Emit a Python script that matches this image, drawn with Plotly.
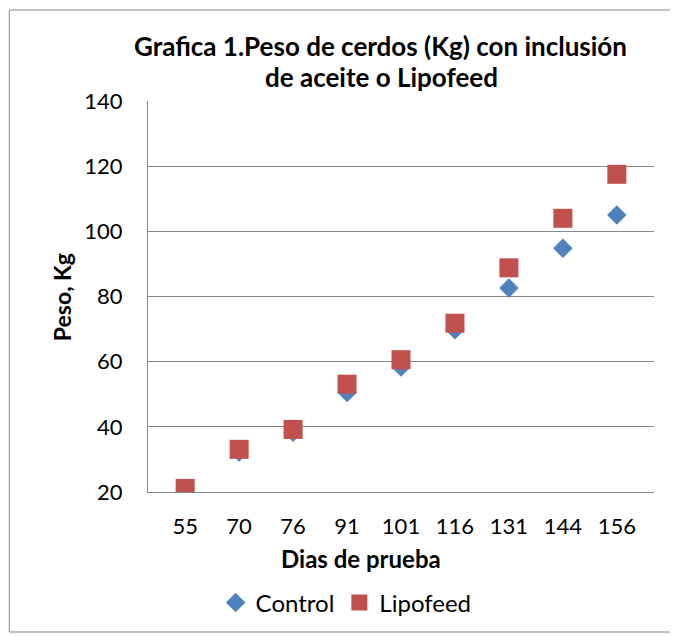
import plotly.graph_objects as go

dias = ["55", "70", "76", "91", "101", "116", "131", "144", "156"]
control = [20.9, 32.3, 38.3, 50.5, 58.4, 69.8, 82.6, 94.8, 105.0]
lipofeed = [21.1, 33.1, 39.2, 53.1, 60.6, 71.8, 88.8, 104.0, 117.5]
y_ticks = [20, 40, 60, 80, 100, 120, 140]

FONT = "Lato"
W, H = 670, 629
L, T = 139.5, 93
R = W - 646.5
B = H - 484
pw, ph = W - L - R, H - T - B

def px(x):
    return (x - L) / pw

def py(y):
    return (H - B - y) / ph

fig = go.Figure()
fig.add_trace(go.Scatter(x=dias, y=control, mode="markers", name="Control",
                         marker=dict(symbol="diamond", size=15, color="#4F81BD")))
fig.add_trace(go.Scatter(x=dias, y=lipofeed, mode="markers", name="Lipofeed",
                         marker=dict(symbol="square", size=19, color="#C0504D")))

fig.update_layout(
    width=W, height=H,
    margin=dict(l=L, r=R, t=T, b=B),
    paper_bgcolor="white", plot_bgcolor="white",
    font=dict(family=FONT, color="black"),
    showlegend=True,
    legend=dict(orientation="h", x=px(338), xanchor="center", y=py(595), yanchor="middle",
                font=dict(size=24, family=FONT), itemsizing="trace", tracegroupgap=0),
    xaxis=dict(type="category", showgrid=False, showline=True, linecolor="#868686",
               ticks="", tickfont=dict(size=22, family=FONT), ticklabelstandoff=15),
    yaxis=dict(range=[20, 140], tickvals=y_ticks, showgrid=True, gridcolor="#868686", gridwidth=1,
               showline=True, linecolor="#868686", zeroline=False, ticks="",
               tickfont=dict(size=22, family=FONT), ticklabelstandoff=20),
)

fig.add_annotation(text="<b>Grafica 1.Peso de cerdos (Kg) con inclusión</b>",
                   xref="paper", yref="paper", x=px(372), y=py(38), xanchor="center", yanchor="middle",
                   showarrow=False, font=dict(size=26, family=FONT))
fig.add_annotation(text="<b>de aceite o Lipofeed</b>",
                   xref="paper", yref="paper", x=px(373), y=py(69), xanchor="center", yanchor="middle",
                   showarrow=False, font=dict(size=26, family=FONT))
fig.add_annotation(text="<b>Dias de prueba</b>",
                   xref="paper", yref="paper", x=px(353), y=py(550), xanchor="center", yanchor="middle",
                   showarrow=False, font=dict(size=24, family=FONT))
fig.add_annotation(text="<b>Peso, Kg</b>", textangle=-90,
                   xref="paper", yref="paper", x=px(53), y=py(289.5), xanchor="center", yanchor="middle",
                   showarrow=False, font=dict(size=23, family=FONT))

fig.add_shape(type="rect", xref="paper", yref="paper",
              x0=px(0.5), x1=px(664), y0=py(624), y1=py(2),
              line=dict(color="#868686", width=1), fillcolor="rgba(0,0,0,0)", layer="below")

fig.write_html("out.html")
